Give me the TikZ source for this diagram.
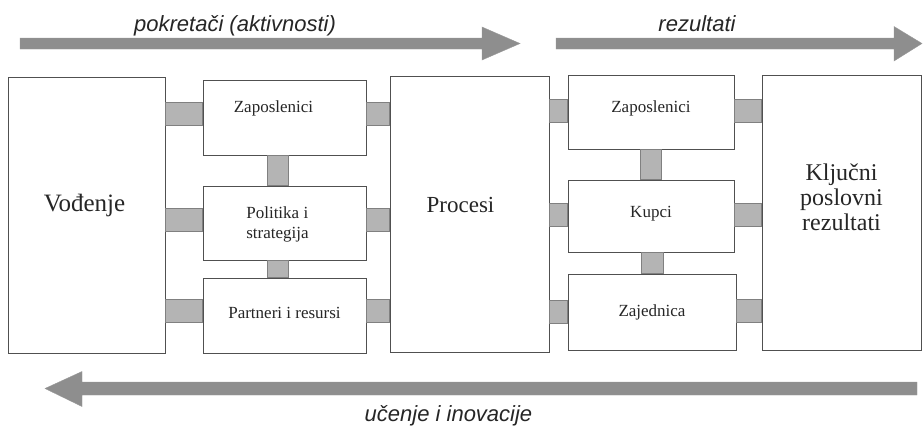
\documentclass[tikz,border=0pt]{standalone}
\usepackage{fontspec}
\setmainfont{Liberation Serif}
\newfontfamily\arialf{Liberation Sans}
\usetikzlibrary{calc}
\definecolor{arrowgray}{HTML}{8E8E8E}
\definecolor{conngray}{HTML}{B4B4B4}
\definecolor{linegray}{HTML}{505050}
\tikzset{
  box/.style={draw=linegray, line width=0.9pt, fill=white, inner sep=0pt},
  smalltxt/.style={font=\fontsize{17}{20}\selectfont, text=black!85, inner sep=0pt},
  bigtxt/.style={font=\fontsize{#1}{25}\selectfont, text=black!85, inner sep=0pt, align=center},
  boxtext/.style 2 args={label={[smalltxt, align=center, yshift=#1]center:#2}},
  conn/.style={draw=gray, line width=0.5pt, fill=conngray},
  bigarrow/.style={fill=arrowgray, draw=gray!80, line width=0.4pt},
  arrowlabel/.style={font=\arialf\itshape\fontsize{22}{26}\selectfont, text=black!85, inner sep=0pt, anchor=base}
}
\newcommand{\hconn}[3]{\path[conn] ($(#1.east |- #2.center)+(0,#3-11.5)$) rectangle ($(#2.west)+(0,#3+11.5)$);}
\newcommand{\hconnr}[3]{\path[conn] ($(#1.east)+(0,#3-11.5)$) rectangle ($(#2.west |- #1.center)+(0,#3+11.5)$);}
\newcommand{\vconn}[3]{\path[conn] ($(#1.south)+(#3-10.5,0)$) rectangle ($(#2.north)+(#3+10.5,0)$);}
\begin{document}
\begin{tikzpicture}[x=1pt,y=-1pt]
\useasboundingbox (0,0) rectangle (923,426);
\fill[white] (0,0) rectangle (923,426);

% big arrows
\coordinate (a1s) at (20,43.5);
\coordinate (a1t) at (520,43.5);
\coordinate (a2s) at (556,43.5);
\coordinate (a2t) at (922,43.5);
\coordinate (a3s) at (917,388.5);
\coordinate (a3t) at (45,388.5);
\path[bigarrow] ($(a1s)+(0,-5.5)$) -- ($(a1t)+(-38,-5.5)$) -- ($(a1t)+(-38,-16.5)$) -- (a1t)
  -- ($(a1t)+(-38,16.5)$) -- ($(a1t)+(-38,5.5)$) -- ($(a1s)+(0,5.5)$) -- cycle;
\path[bigarrow] ($(a2s)+(0,-5.5)$) -- ($(a2t)+(-28,-5.5)$) -- ($(a2t)+(-28,-17)$) -- (a2t)
  -- ($(a2t)+(-28,17.5)$) -- ($(a2t)+(-28,5.5)$) -- ($(a2s)+(0,5.5)$) -- cycle;
\path[bigarrow] ($(a3s)+(0,-6.5)$) -- ($(a3t)+(37,-6.5)$) -- ($(a3t)+(37,-17)$) -- (a3t)
  -- ($(a3t)+(37,18)$) -- ($(a3t)+(37,6.5)$) -- ($(a3s)+(0,6.5)$) -- cycle;

\node[arrowlabel] (l1) at (235,31) {pokretači (aktivnosti)};
\node[arrowlabel] (l2) at (697,31) {rezultati};
\node[arrowlabel] (l3) at (448.5,421) {učenje i inovacije};

% boxes
\node[box, minimum width=157, minimum height=276,
  label={[bigtxt=25, xshift=-2, yshift=10]center:Vođenje}] (vod) at (86.5,215) {};
\node[box, minimum width=163, minimum height=75,
  label={[smalltxt, xshift=-11, yshift=9]center:Zaposlenici}] (zap1) at (284.5,117.5) {};
\node[box, minimum width=163, minimum height=74,
  label={[smalltxt, align=left, xshift=-7, yshift=-1]center:Politika i\\strategija}] (pol) at (284.5,223) {};
\node[box, minimum width=163, minimum height=75, boxtext={2.5}{Partneri i resursi}] (par) at (284.5,315.5) {};
\node[box, minimum width=159, minimum height=276,
  label={[bigtxt=23, xshift=-9, yshift=9]center:Procesi}] (pro) at (469.5,214) {};
\node[box, minimum width=166, minimum height=74, boxtext={4}{Zaposlenici}] (zap2) at (651,112) {};
\node[box, minimum width=166, minimum height=72, boxtext={2}{Kupci}] (kup) at (651,216) {};
\node[box, minimum width=168, minimum height=76, boxtext={0}{Zajednica}] (zaj) at (652,312) {};
\node[box, minimum width=159, minimum height=275,
  label={[bigtxt=24, yshift=15]center:Ključni\\poslovni\\rezultati}] (klj) at (841.5,212.5) {};

% connectors
\hconn{vod}{zap1}{-4}
\hconn{vod}{pol}{-3.5}
\hconn{vod}{par}{-4.5}
\hconnr{zap1}{pro}{-4}
\hconnr{pol}{pro}{-3.5}
\hconnr{par}{pro}{-4.5}
\vconn{zap1}{pol}{-7}
\vconn{pol}{par}{-7}
\hconn{pro}{zap2}{-1.5}
\hconn{pro}{kup}{-1}
\hconn{pro}{zaj}{0}
\hconnr{zap2}{klj}{-1.5}
\hconnr{kup}{klj}{-1}
\hconnr{zaj}{klj}{-1}
\vconn{zap2}{kup}{-0.5}
\vconn{kup}{zaj}{0.5}
\end{tikzpicture}
\end{document}
